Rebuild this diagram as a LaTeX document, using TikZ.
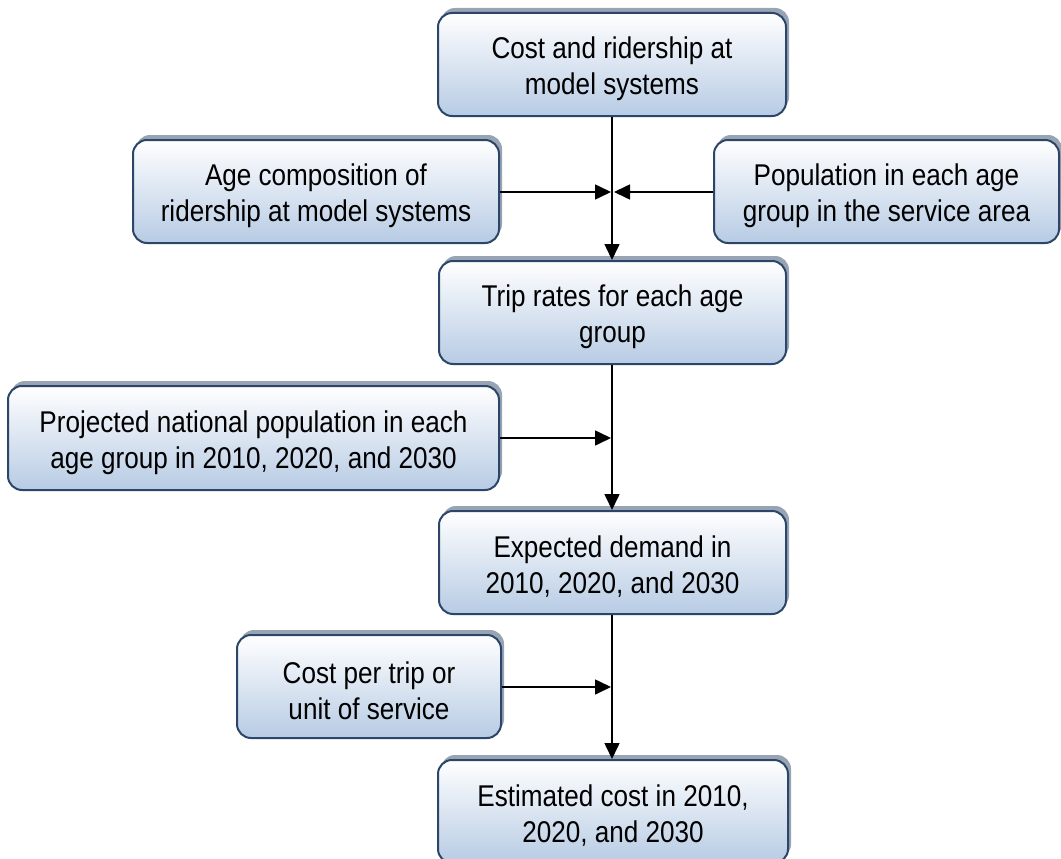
\documentclass[tikz,border=0pt]{standalone}
\usepackage{fontspec}
\setmainfont{Liberation Sans}[FakeStretch=0.87]
\usetikzlibrary{arrows.meta,shadows}
\definecolor{boxborder}{HTML}{2B4668}
\definecolor{boxbottom}{HTML}{B7CBE4}
\definecolor{boxshadow}{HTML}{98A4B3}
\tikzset{
  flowbox/.style={draw=boxborder, line width=2pt, rounded corners=14pt,
    top color=white, bottom color=boxbottom, inner sep=0pt,
    general shadow={shadow xshift=3pt, shadow yshift=5pt, fill=boxshadow}},
  boxtext/.style={align=center, font=\fontsize{30}{36}\selectfont, text=black,
    inner sep=0pt, yshift=-4.5pt},
  conn/.style={line width=1.6pt, -{Triangle[length=16pt,width=15pt]}}
}
\begin{document}
\begin{tikzpicture}[x=1pt,y=-1pt]
\useasboundingbox (0,0) rectangle (1061,859);
\clip (0,0) rectangle (1061,859);
\node[flowbox, minimum width=348pt, minimum height=103pt,
  label={[boxtext]center:{Cost and ridership at\\model systems}}] (top) at (612,64.5) {};
\node[flowbox, minimum width=366pt, minimum height=103pt,
  label={[boxtext]center:{Age composition of\\ridership at model systems}}] (age) at (316,191.5) {};
\node[flowbox, minimum width=345pt, minimum height=103pt,
  label={[boxtext]center:{Population in each age\\group in the service area}}] (pop) at (886.5,191.5) {};
\node[flowbox, minimum width=347pt, minimum height=103pt,
  label={[boxtext]center:{Trip rates for each age\\group}}] (trip) at (612.5,312.5) {};
\node[flowbox, minimum width=491pt, minimum height=104pt,
  label={[boxtext]center:{Projected national population in each\\age group in 2010, 2020, and 2030}}] (proj) at (253.5,438) {};
\node[flowbox, minimum width=347pt, minimum height=103pt,
  label={[boxtext]center:{Expected demand in\\2010, 2020, and 2030}}] (exp) at (612.5,562.5) {};
\node[flowbox, minimum width=264pt, minimum height=103pt,
  label={[boxtext]center:{Cost per trip or\\unit of service}}] (cost) at (369,686.5) {};
\node[flowbox, minimum width=350pt, minimum height=103pt,
  label={[boxtext]center:{Estimated cost in 2010,\\2020, and 2030}}] (est) at (613,811.5) {};
\coordinate (m1l) at (611,192);
\coordinate (m1r) at (614,192);
\coordinate (m2) at (611,438);
\coordinate (m3) at (611,687);
\draw[conn] (top.south -| 612,0) -- (trip.north -| 612,0);
\draw[conn] (trip.south -| 612,0) -- (exp.north -| 612,0);
\draw[conn] (exp.south -| 612,0) -- (est.north -| 612,0);
\draw[conn] (age.east |- m1l) -- (m1l);
\draw[conn] (pop.west |- m1r) -- (m1r);
\draw[conn] (proj.east |- m2) -- (m2);
\draw[conn] (cost.east |- m3) -- (m3);
\end{tikzpicture}
\end{document}
